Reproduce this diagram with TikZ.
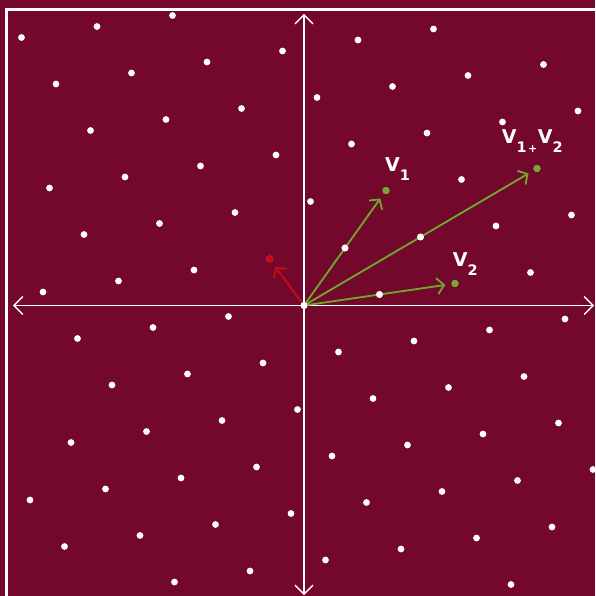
\documentclass[tikz,border=0pt]{standalone}
\usepackage{fontspec}
\setmainfont{DejaVu Sans}
\usetikzlibrary{arrows.meta}
\definecolor{latticebg}{HTML}{74072C}
\definecolor{vecgreen}{HTML}{6EAB2A}
\definecolor{vecred}{HTML}{CC0A16}
\newcommand{\vsub}[1]{\raisebox{-9pt}{\fontsize{14.5}{14.5}\selectfont\bfseries #1}}
\newcommand{\vlab}[1]{\textbf{V}\vsub{#1}}

\begin{document}
\begin{tikzpicture}[
    x=1pt, y=1pt,
    dot/.style={circle, fill=white, inner sep=0pt, minimum size=6.8pt},
    gdot/.style={dot, fill=vecgreen, minimum size=7.2pt},
    rdot/.style={dot, fill=vecred, minimum size=7.2pt},
    axis/.style={white, line width=1.4pt, {Straight Barb[length=9pt,width=18pt]}-{Straight Barb[length=9pt,width=18pt]}},
    vec/.style={vecgreen, line width=1.8pt, -{Straight Barb[length=7pt,width=16pt]}, shorten >=6pt},
    lbl/.style={text=white, font=\fontsize{19}{19}\selectfont, inner sep=0pt, anchor=base west},
]
\useasboundingbox (-304,-290.5) rectangle (291,305.5);
\fill[latticebg] (-304,-290.5) rectangle (291,305.5);
\clip (-304,-290.5) rectangle (291,305.5);

% frame
\draw[white, line width=2.6pt] (-297.3,-400) rectangle (400,295.7);

% axes
\coordinate (xl) at (-291,0);
\coordinate (xr) at (290,0);
\coordinate (yb) at (0,-289.5);
\coordinate (yt) at (0,291.5);
\draw[axis] (xl) -- (xr);
\draw[axis] (yb) -- (yt);

% lattice, only the points shown in the frame
\foreach \a in {-6,...,6}
  \foreach \b in {-7,...,6}{
    \pgfmathsetmacro{\px}{\a*41+\b*75.5}
    \pgfmathsetmacro{\py}{\a*57.5+\b*11}
    \pgfmathtruncatemacro{\keep}{(\px>-288)*(\py<293)*(\py>-284.5)*(1-(\a==5)*(\b==0))*(1-(\a==-1)*(\b==-3))}
    \ifnum\keep=1
      \fill[white] (\px,\py) circle (3.4pt);
    \fi
  }

% special points
\node[dot] (o) at (0,0) {};
\node[gdot] (v1) at (82,115) {};
\node[gdot] (v2) at (151,22) {};
\node[gdot] (v12) at (233,137) {};
\node[rdot] (r) at (-34.5,46.5) {};

% vectors
\draw[vec] (o) -- (v1);
\draw[vec] (o) -- (v2);
\draw[vec] (o) -- (v12);
\draw[vec, vecred] (o) -- (r);

% half points on top of the vectors
\node[dot] (h1) at (41,57.5) {};
\node[dot] (h2) at (75.5,11) {};
\node[dot] (h12) at (116.5,68.5) {};
\node[dot] (o2) at (0,0) {};

% labels
\node[lbl] (l1) at (81,133.8) {\vlab{1}};
\node[lbl] (l2) at (148.7,38.8) {\vlab{2}};
\node[lbl] (l12) at (197.7,162.2) {\vlab{1\kern1.5pt{\fontsize{11}{11}\selectfont +}\kern0.5pt}\textbf{V}\vsub{2}};

\end{tikzpicture}
\end{document}
